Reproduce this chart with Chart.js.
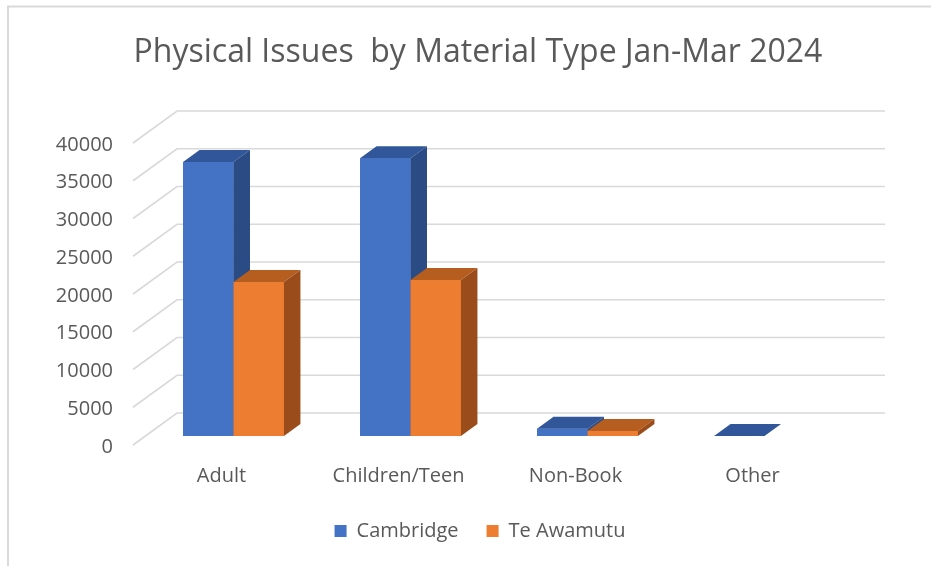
<!DOCTYPE html>
<html>
<head>
<meta charset="utf-8">
<script src="https://cdn.jsdelivr.net/npm/chart.js@4.4.1/dist/chart.umd.min.js"></script>
<style>
  html, body { margin: 0; padding: 0; background: #ffffff; }
  #wrap { width: 931px; height: 566px; position: relative; }
</style>
</head>
<body>
<div id="wrap"><canvas id="c"></canvas></div>
<script>
// ---- data ----
const categories = ['Adult', 'Children/Teen', 'Non-Book', 'Other'];
const seriesNames = ['Cambridge', 'Te Awamutu'];
const cambridge = [36300, 36800, 950, 0];
const teAwamutu = [20400, 20650, 650, null];
const yMin = 0;
const yMax = 40000;
const yStep = 5000;
const titleText = 'Physical Issues  by Material Type Jan-Mar 2024';

// ---- styles ----
const FRONT = ['#4472C4', '#ED7D31'];
const TOP = ['#31579A', '#B55E20'];
const SIDE = ['#2B4B85', '#9A4D1B'];
const GRID = '#D9D9D9';
const TEXT = '#595959';
// 3D offsets
const BAR_DX = 16.5, BAR_DY = -12;       // bar depth
const FRONT_DX = -12, FRONT_DY = 9;      // floor front edge from bar plane
const BACK_DX = 32, BACK_DY = -23;       // back wall from bar plane
const TITLE_SHIFT = 103, LEGEND_SHIFT = 107;

const depth3d = {
  id: 'depth3d',
  afterLayout(chart) {
    // centre title and legend over the whole picture, like the original
    if (chart.titleBlock) chart.titleBlock.left += TITLE_SHIFT;
    if (chart.legend) chart.legend.left += LEGEND_SHIFT;
  },
  beforeDraw(chart) {
    const ctx = chart.ctx;
    ctx.save();
    ctx.fillStyle = '#ffffff';
    ctx.fillRect(0, 0, chart.width, chart.height);
    ctx.strokeStyle = GRID;
    ctx.lineWidth = 2;
    ctx.beginPath();
    ctx.moveTo(8, chart.height);
    ctx.lineTo(8, 6.5);
    ctx.lineTo(chart.width, 6.5);
    ctx.stroke();
    ctx.restore();
  },
  beforeDatasetsDraw(chart) {
    const ctx = chart.ctx;
    const ys = chart.scales.y;
    const area = chart.chartArea;
    ctx.save();
    ctx.strokeStyle = GRID;
    ctx.lineWidth = 1.6;
    ys.ticks.forEach(t => {
      const y = ys.getPixelForValue(t.value);
      ctx.beginPath();
      ctx.moveTo(area.left + FRONT_DX, y + FRONT_DY);
      ctx.lineTo(area.left + BACK_DX, y + BACK_DY);
      ctx.lineTo(area.right + BACK_DX, y + BACK_DY);
      ctx.stroke();
    });
    ctx.restore();
  },
  afterDatasetsDraw(chart) {
    const ctx = chart.ctx;
    const n = chart.data.labels.length;
    for (let i = 0; i < n; i++) {
      chart.data.datasets.forEach((ds, d) => {
        if (ds.data[i] === null || ds.data[i] === undefined) return;
        const el = chart.getDatasetMeta(d).data[i];
        if (!el) return;
        const p = el.getProps(['x', 'y', 'base', 'width'], true);
        const x0 = p.x - p.width / 2, x1 = p.x + p.width / 2;
        const top = Math.min(p.y, p.base), bot = Math.max(p.y, p.base);
        el.draw(ctx);
        ctx.save();
        // top face
        ctx.fillStyle = TOP[d];
        ctx.beginPath();
        ctx.moveTo(x0, top);
        ctx.lineTo(x1, top);
        ctx.lineTo(x1 + BAR_DX, top + BAR_DY);
        ctx.lineTo(x0 + BAR_DX, top + BAR_DY);
        ctx.closePath();
        ctx.fill();
        // side face
        if (bot - top > 0.01) {
          ctx.fillStyle = SIDE[d];
          ctx.beginPath();
          ctx.moveTo(x1, top);
          ctx.lineTo(x1 + BAR_DX, top + BAR_DY);
          ctx.lineTo(x1 + BAR_DX, bot + BAR_DY);
          ctx.lineTo(x1, bot);
          ctx.closePath();
          ctx.fill();
        }
        ctx.restore();
      });
    }
  }
};

Chart.defaults.font.family = "'Open Sans', 'DejaVu Sans', sans-serif";
Chart.defaults.color = TEXT;

new Chart(document.getElementById('c'), {
  type: 'bar',
  data: {
    labels: categories,
    datasets: [
      { label: seriesNames[0], data: cambridge, backgroundColor: FRONT[0], borderWidth: 0 },
      { label: seriesNames[1], data: teAwamutu, backgroundColor: FRONT[1], borderWidth: 0 }
    ]
  },
  options: {
    responsive: true,
    maintainAspectRatio: false,
    animation: false,
    events: [],
    layout: { padding: { left: 0, right: 78, top: 0, bottom: 15 } },
    datasets: { bar: { categoryPercentage: 0.57, barPercentage: 1.0 } },
    scales: {
      x: {
        grid: { display: false, drawTicks: false },
        border: { display: false },
        ticks: { font: { size: 20 }, color: TEXT, padding: 28, labelOffset: -12, maxRotation: 0 },
        afterFit(s) { s.height = 57; }
      },
      y: {
        min: yMin, max: yMax,
        grid: { display: false, drawTicks: false },
        border: { display: false },
        ticks: {
          stepSize: yStep, font: { size: 20 }, color: TEXT, padding: 32, labelOffset: 11,
          callback: v => String(v)
        },
        afterFit(s) { s.width = 145; }
      }
    },
    plugins: {
      title: {
        display: true, text: titleText, color: TEXT,
        font: { size: 32, weight: 'normal' }, lineHeight: 1.2,
        padding: { top: 34, bottom: 61.6 }
      },
      legend: {
        display: true, position: 'bottom',
        labels: { boxWidth: 12, boxHeight: 12, padding: 28, font: { size: 20 }, color: TEXT }
      },
      tooltip: { enabled: false }
    }
  },
  plugins: [depth3d]
});
</script>
</body>
</html>
